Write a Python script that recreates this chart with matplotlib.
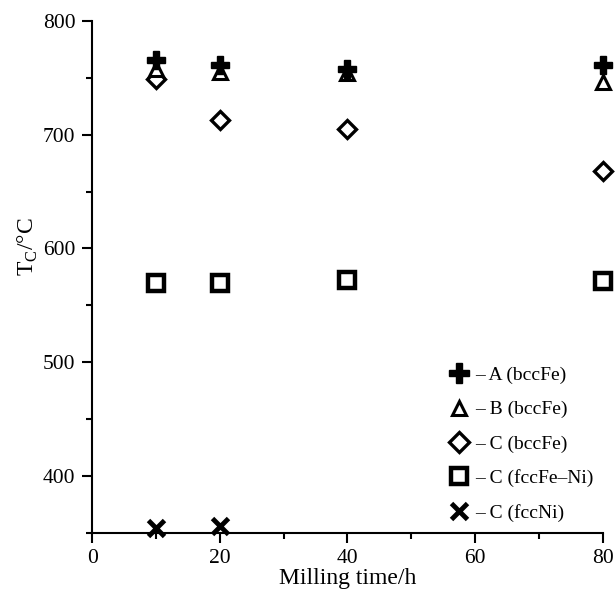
import matplotlib
matplotlib.use("Agg")
import matplotlib.pyplot as plt

plt.rcParams['font.family'] = ['Liberation Serif', 'DejaVu Serif']
plt.rcParams['mathtext.fontset'] = 'custom'
plt.rcParams['mathtext.rm'] = 'Liberation Serif'

# Milling time (h)
time = [10, 20, 40, 80]
time_ni = [10, 20]

# Curie temperatures (deg C)
a_bcc = [766, 761, 758, 761]
b_bcc = [758, 755, 754, 746]
c_bcc = [749, 713, 705, 668]
c_fcc_feni = [570, 570, 572, 571]
c_fcc_ni = [354, 356]

fig, ax = plt.subplots(figsize=(6.15, 5.96), dpi=100)
fig.subplots_adjust(left=0.150, right=0.980, bottom=0.106, top=0.965)

ax.plot(time, a_bcc, linestyle='none', marker='P', markersize=13.5,
        color='black', clip_on=False, zorder=5, label='– A (bccFe)')
ax.plot(time, b_bcc, linestyle='none', marker='^', markersize=9.5,
        markerfacecolor='white', markeredgecolor='black', markeredgewidth=2.2,
        clip_on=False, zorder=4, label='– B (bccFe)')
ax.plot(time, c_bcc, linestyle='none', marker='D', markersize=9,
        markerfacecolor='white', markeredgecolor='black', markeredgewidth=2.4,
        clip_on=False, zorder=3, label='– C (bccFe)')
ax.plot(time, c_fcc_feni, linestyle='none', marker='s', markersize=11,
        markerfacecolor='white', markeredgecolor='black', markeredgewidth=3.2,
        clip_on=False, label='– C (fccFe–Ni)')
ax.plot(time_ni, c_fcc_ni, linestyle='none', marker='x', markersize=11,
        markeredgewidth=3.5, color='black', clip_on=False,
        label='– C (fccNi)')

ax.set_xlim(0, 80)
ax.set_ylim(350, 800)
ax.set_xticks([0, 20, 40, 60, 80])
ax.set_xticks([10, 30, 50, 70], minor=True)
ax.set_yticks([400, 500, 600, 700, 800])
ax.set_yticks([350, 450, 550, 650, 750], minor=True)

for side in ['top', 'right']:
    ax.spines[side].set_visible(False)
for side in ['left', 'bottom']:
    ax.spines[side].set_linewidth(1.5)

ax.tick_params(which='major', direction='out', length=7, width=1.5,
               labelsize=15.5, pad=5)
ax.tick_params(which='minor', direction='out', length=4, width=1.5)

ax.set_xlabel('Milling time/h', fontsize=17, labelpad=0)
ax.set_ylabel('T$_\\mathrm{C}$/°C', fontsize=17)
ax.yaxis.set_label_coords(-0.103, 0.56)

ax.legend(loc='upper left', bbox_to_anchor=(0.68, 0.34), frameon=False,
          fontsize=14, handletextpad=0.25, labelspacing=0.85,
          borderaxespad=0, handlelength=1.2, numpoints=1, markerscale=1.1)

fig.savefig('out.png', dpi=100)
